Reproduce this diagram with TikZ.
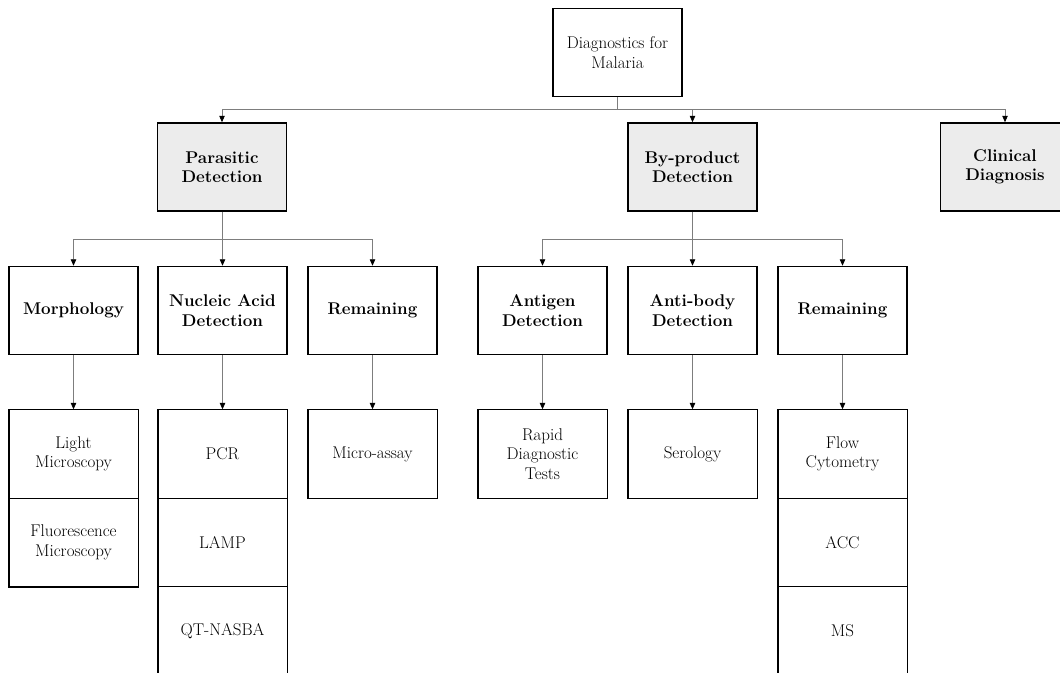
\documentclass[tikz,border=0pt]{standalone}
\usetikzlibrary{arrows.meta}
\definecolor{boxgray}{RGB}{236,236,236}
\definecolor{linkgray}{RGB}{125,125,125}
\begin{document}
\begin{tikzpicture}[x=1pt,y=1pt,
  txt/.style={font=\fontsize{17}{19.5}\selectfont},
  box/.style={txt, draw, line width=1.5pt, minimum width=129pt, minimum height=88pt, align=center, inner sep=2pt},
  head/.style={box, fill=boxgray, font=\fontsize{17}{19.5}\selectfont\bfseries},
  cat/.style={box, font=\fontsize{17}{19.5}\selectfont\bfseries},
  cell/.style={txt, draw, line width=0.9pt, minimum width=129pt, minimum height=88.5pt, align=center, inner sep=2pt},
  frame/.style={draw, line width=1.5pt},
  link/.style={draw=linkgray, line width=0.8pt},
  tip/.style={-{Triangle[length=6.5pt,width=5.5pt,color=black]}}
]
\useasboundingbox (0,0) rectangle (1060,-672);
\clip (0,0) rectangle (1060,-672);

% root
\node[box] (root) at (617.5,-52.5) {Diagnostics for\\Malaria};

% first level
\node[head] (par) at (222,-167) {Parasitic\\Detection};
\node[head] (byp) at (692.5,-167) {By-product\\Detection};
\node[head] (cli) at (1005,-167) {Clinical\\Diagnosis};

\foreach \c in {par,byp,cli}
  \draw[link,tip] (root.south) -- ++(0,-12) -| (\c.north);

% second level
\node[cat] (mor) at (73.5,-310.5) {Morphology};
\node[cat] (nad) at (222.5,-310.5) {Nucleic Acid\\Detection};
\node[cat] (rem1) at (372.5,-310.5) {Remaining};
\node[cat] (ant) at (542.5,-310.5) {Antigen\\Detection};
\node[cat] (abd) at (692.5,-310.5) {Anti-body\\Detection};
\node[cat] (rem2) at (842.5,-310.5) {Remaining};

\foreach \c in {mor,nad,rem1}
  \draw[link,tip] (par.south) -- ++(0,-28) -| (\c.north);
\foreach \c in {ant,abd,rem2}
  \draw[link,tip] (byp.south) -- ++(0,-28) -| (\c.north);

% third level: method lists
\node[cell] (lm) at (73.5,-454) {Light\\Microscopy};
\node[cell] (fm) at (73.5,-542.5) {Fluorescence\\Microscopy};
\draw[frame] (lm.north west) rectangle (fm.south east);

\node[cell] (pcr) at (222.5,-454) {PCR};
\node[cell] (lamp) at (222.5,-542.5) {LAMP};
\node[cell] (qt) at (222.5,-631) {QT-NASBA};
\draw[frame] (pcr.north west) rectangle (qt.south east);

\node[cell] (mic) at (372.5,-454) {Micro-assay};
\draw[frame] (mic.north west) rectangle (mic.south east);

\node[cell] (rdt) at (542.5,-454) {Rapid\\Diagnostic\\Tests};
\draw[frame] (rdt.north west) rectangle (rdt.south east);

\node[cell] (ser) at (692.5,-454) {Serology};
\draw[frame] (ser.north west) rectangle (ser.south east);

\node[cell] (flow) at (842.5,-454) {Flow\\Cytometry};
\node[cell] (acc) at (842.5,-542.5) {ACC};
\node[cell] (ms) at (842.5,-631) {MS};
\draw[frame] (flow.north west) rectangle (ms.south east);

% links from categories to methods
\draw[link,tip] (mor.south) -- (lm.north);
\draw[link,tip] (nad.south) -- (pcr.north);
\draw[link,tip] (rem1.south) -- (mic.north);
\draw[link,tip] (ant.south) -- (rdt.north);
\draw[link,tip] (abd.south) -- (ser.north);
\draw[link,tip] (rem2.south) -- (flow.north);
\end{tikzpicture}
\end{document}
